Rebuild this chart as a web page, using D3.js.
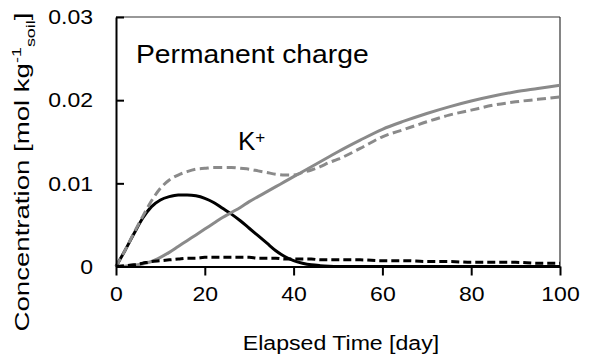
<!DOCTYPE html>
<html>
<head>
<meta charset="utf-8">
<script src="https://cdn.jsdelivr.net/npm/d3@7"></script>
<style>
  body { margin: 0; background: #fff; }
  text { font-family: "Liberation Sans", Arial, sans-serif; fill: #000; }
</style>
</head>
<body>
<div id="plot"></div>
<script>
// data (day, mol/kg soil)
const days        = [0, 2, 4, 6, 8, 10, 12, 14, 16, 18, 20, 22, 24, 26, 28, 30, 32, 34, 36, 38, 40, 42, 44, 46, 48, 50, 55, 60, 65, 70, 75, 80, 85, 90, 95, 100];
const blackSolid  = [0, 0.0019, 0.0039, 0.0058, 0.0072, 0.0080, 0.0084, 0.0086, 0.0086, 0.0085, 0.0082, 0.0077, 0.0070, 0.0063, 0.0055, 0.0046, 0.0037, 0.0028, 0.0019, 0.0012, 0.0007, 0.0004, 0.0002, 0.0001, 0.00004, 0.00001, 0, 0, 0, 0, 0, 0, 0, 0, 0, 0];
const blackDashed = [0, 0.0001, 0.0002, 0.0004, 0.0006, 0.0007, 0.0008, 0.0009, 0.0010, 0.0010, 0.0011, 0.0011, 0.0011, 0.0011, 0.0011, 0.0011, 0.0010, 0.0010, 0.0010, 0.0009, 0.0009, 0.0009, 0.0009, 0.0008, 0.0008, 0.0008, 0.0008, 0.0007, 0.0007, 0.0006, 0.0006, 0.0005, 0.0005, 0.0005, 0.0004, 0.0004];
const graySolid   = [0, 0.00004, 0.00015, 0.0003, 0.0006, 0.0011, 0.0017, 0.0024, 0.0031, 0.0038, 0.0045, 0.0052, 0.0059, 0.0065, 0.0071, 0.0078, 0.0084, 0.0090, 0.0096, 0.0102, 0.0108, 0.0114, 0.0120, 0.0126, 0.0132, 0.0138, 0.0152, 0.0165, 0.0175, 0.0184, 0.0192, 0.0199, 0.0205, 0.0210, 0.0214, 0.0218];
const grayDashed  = [0, 0.0019, 0.0040, 0.0060, 0.0079, 0.0094, 0.0104, 0.0110, 0.0114, 0.0117, 0.0118, 0.0119, 0.0119, 0.0119, 0.0118, 0.0117, 0.0115, 0.0113, 0.0111, 0.0110, 0.0110, 0.0113, 0.0116, 0.0120, 0.0125, 0.0129, 0.0142, 0.0156, 0.0165, 0.0174, 0.0182, 0.0188, 0.0194, 0.0198, 0.0201, 0.0204];
const xTicks = [0, 20, 40, 60, 80, 100];
const yTicks = [0, 0.01, 0.02, 0.03];

const margin = { top: 17, right: 29, bottom: 91.5, left: 116 },
  width = 589 - margin.left - margin.right,
  height = 358 - margin.top - margin.bottom;

const svg = d3.select("#plot")
  .append("svg")
    .attr("width", 589)
    .attr("height", 358);

const g = svg.append("g")
  .attr("transform", `translate(${margin.left},${margin.top})`);

const x = d3.scaleLinear().domain([0, 100]).range([0, width]);
const y = d3.scaleLinear().domain([0, 0.03]).range([height, 0]);

// top and right frame
g.append("line").attr("x1", 0).attr("x2", width).attr("y1", 0).attr("y2", 0)
  .attr("stroke", "#333").attr("stroke-width", 1.2);
g.append("line").attr("x1", width).attr("x2", width).attr("y1", 0).attr("y2", height)
  .attr("stroke", "#333").attr("stroke-width", 1.2);

// lines
const line = d3.line()
  .x((d, i) => x(days[i]))
  .y(d => y(d))
  .curve(d3.curveMonotoneX);

const series = [
  { values: blackSolid, color: "#000", dash: null },
  { values: graySolid, color: "#8a8a8a", dash: null },
  { values: grayDashed, color: "#8a8a8a", dash: "9,4.5" },
  { values: blackDashed, color: "#000", dash: "8,4" }
];

g.selectAll(".series")
  .data(series)
  .enter().append("path")
    .attr("class", "series")
    .attr("d", d => line(d.values))
    .attr("fill", "none")
    .attr("stroke", d => d.color)
    .attr("stroke-width", 3)
    .attr("stroke-dasharray", d => d.dash);

// axes
const xAxis = g.append("g")
  .attr("transform", `translate(0,${height})`)
  .call(d3.axisBottom(x).tickValues(xTicks).tickSizeInner(9).tickSizeOuter(0));
xAxis.selectAll("text")
  .attr("y", 0).attr("dy", 0)
  .attr("transform", "translate(0,34) scale(1.18,1)")
  .style("font-size", "19.5px");

const yAxis = g.append("g")
  .call(d3.axisLeft(y).tickValues(yTicks).tickSizeInner(-8).tickSizeOuter(0)
    .tickFormat(d => d === 0 ? "0" : d3.format(".2f")(d)));
yAxis.selectAll("text")
  .attr("x", 0).attr("dy", "0.35em")
  .attr("transform", "translate(-23,0) scale(1.18,1)")
  .style("font-size", "19.5px");

g.selectAll(".domain").attr("stroke", "#000").attr("stroke-width", 2);
g.selectAll(".tick line").attr("stroke", "#000").attr("stroke-width", 2);

// annotations
svg.append("text")
  .attr("transform", "translate(136,63) scale(1.11,1)")
  .style("font-size", "25.5px")
  .text("Permanent charge");

const k = svg.append("text")
  .attr("x", 238).attr("y", 150)
  .style("font-size", "26px");
k.append("tspan").text("K");
k.append("tspan").attr("dy", -7).style("font-size", "17px").text("+");

svg.append("text")
  .attr("transform", "translate(341,350) scale(1.1,1)")
  .attr("text-anchor", "middle")
  .style("font-size", "21px")
  .text("Elapsed Time [day]");

const yl = svg.append("text")
  .attr("transform", "translate(29,172) rotate(-90) scale(1.38,1)")
  .attr("text-anchor", "middle")
  .style("font-size", "20px");
yl.append("tspan").text("Concentration [mol kg");
yl.append("tspan").attr("dy", -8).style("font-size", "13px").text("-1");
yl.append("tspan").attr("dy", 14).style("font-size", "13px").text("soil");
yl.append("tspan").attr("dy", -6).text("]");
</script>
</body>
</html>
